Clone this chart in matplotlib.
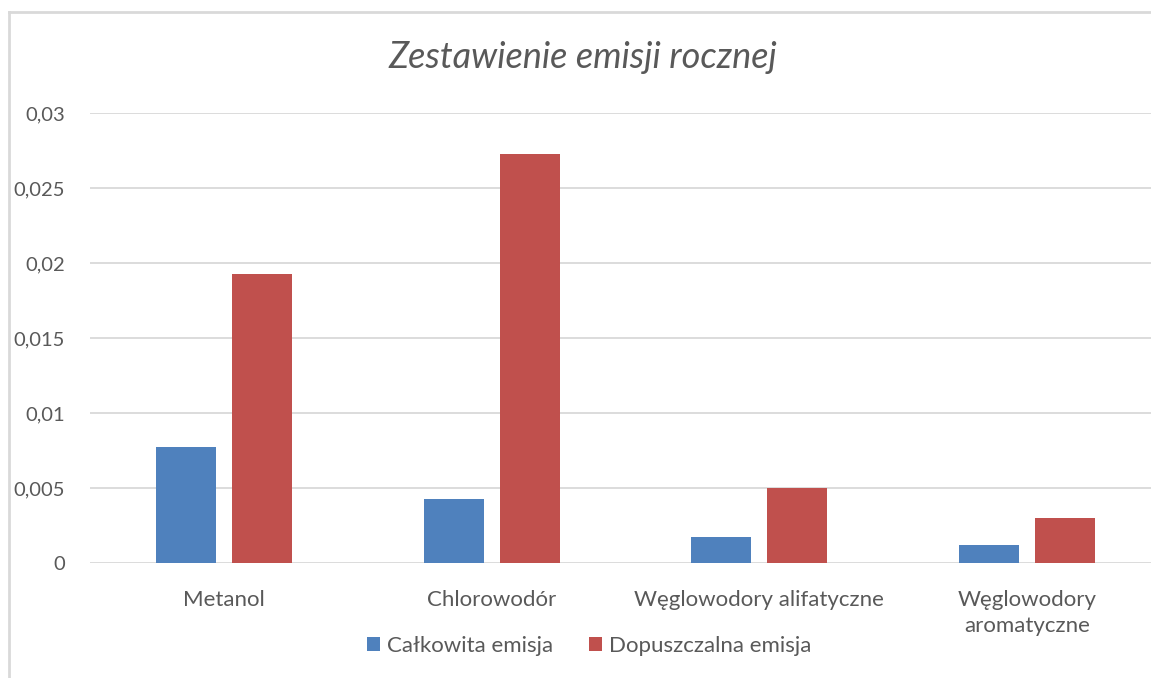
import matplotlib
matplotlib.use("Agg")
import matplotlib.pyplot as plt
import numpy as np
from matplotlib.patches import Patch
from matplotlib.lines import Line2D
from matplotlib.ticker import MultipleLocator, FuncFormatter

# dane
kategorie = ["Metanol", "Chlorowodór", "Węglowodory alifatyczne", "Węglowodory\naromatyczne"]
calkowita = [0.00775, 0.00428, 0.00174, 0.00120]
dopuszczalna = [0.01930, 0.02730, 0.00500, 0.00300]
serie = ["Całkowita emisja", "Dopuszczalna emisja"]

niebieski = "#4f81bd"
czerwony = "#c0504d"
szary_txt = "#595959"
siatka = "#d9d9d9"

plt.rcParams["font.family"] = ["Lato", "DejaVu Sans"]

fig = plt.figure(figsize=(11.51, 6.78), dpi=100)
W, H = 1151, 678
ax = fig.add_axes([90 / W, (H - 563.3) / H, 1071 / W, 450 / H])

x = np.arange(len(kategorie))
bw = 0.224
ax.bar(x - 0.142, calkowita, width=bw, color=niebieski, zorder=3)
ax.bar(x + 0.142, dopuszczalna, width=bw, color=czerwony, zorder=3)

ax.set_xlim(-0.5, 3.5)
ax.set_ylim(0, 0.03)
ax.yaxis.set_major_locator(MultipleLocator(0.005))
ax.yaxis.set_major_formatter(FuncFormatter(lambda v, p: ("%g" % round(v, 4)).replace(".", ",")))
ax.grid(axis="y", color=siatka, linewidth=1.3, zorder=0)
for s in ax.spines.values():
    s.set_visible(False)
ax.tick_params(axis="y", length=0, pad=18, labelsize=14.5, labelcolor=szary_txt)
ax.tick_params(axis="x", length=0, pad=19, labelsize=16, labelcolor=szary_txt)
ax.set_xticks(x)
ax.set_xticklabels(kategorie, linespacing=1.4)

fig.text(583 / W, 1 - 58 / H, "Zestawienie emisji rocznej", ha="center", va="center",
         fontsize=26, style="italic", color=szary_txt)

uchwyty = [Patch(facecolor=niebieski), Patch(facecolor=czerwony)]
fig.legend(uchwyty, serie, loc="center", bbox_to_anchor=(589 / W, 1 - 646 / H), ncol=2,
           frameon=False, fontsize=16, labelcolor=szary_txt, handlelength=0.6, handleheight=0.6,
           handletextpad=0.3, columnspacing=1.6)

# ramka wykresu
fig.add_artist(Line2D([9 / W, 9 / W], [0, 1 - 12 / H], color=siatka, linewidth=2, transform=fig.transFigure))
fig.add_artist(Line2D([9 / W, 1], [1 - 12 / H, 1 - 12 / H], color=siatka, linewidth=2, transform=fig.transFigure))

fig.savefig("out.png", dpi=100, facecolor="white")
